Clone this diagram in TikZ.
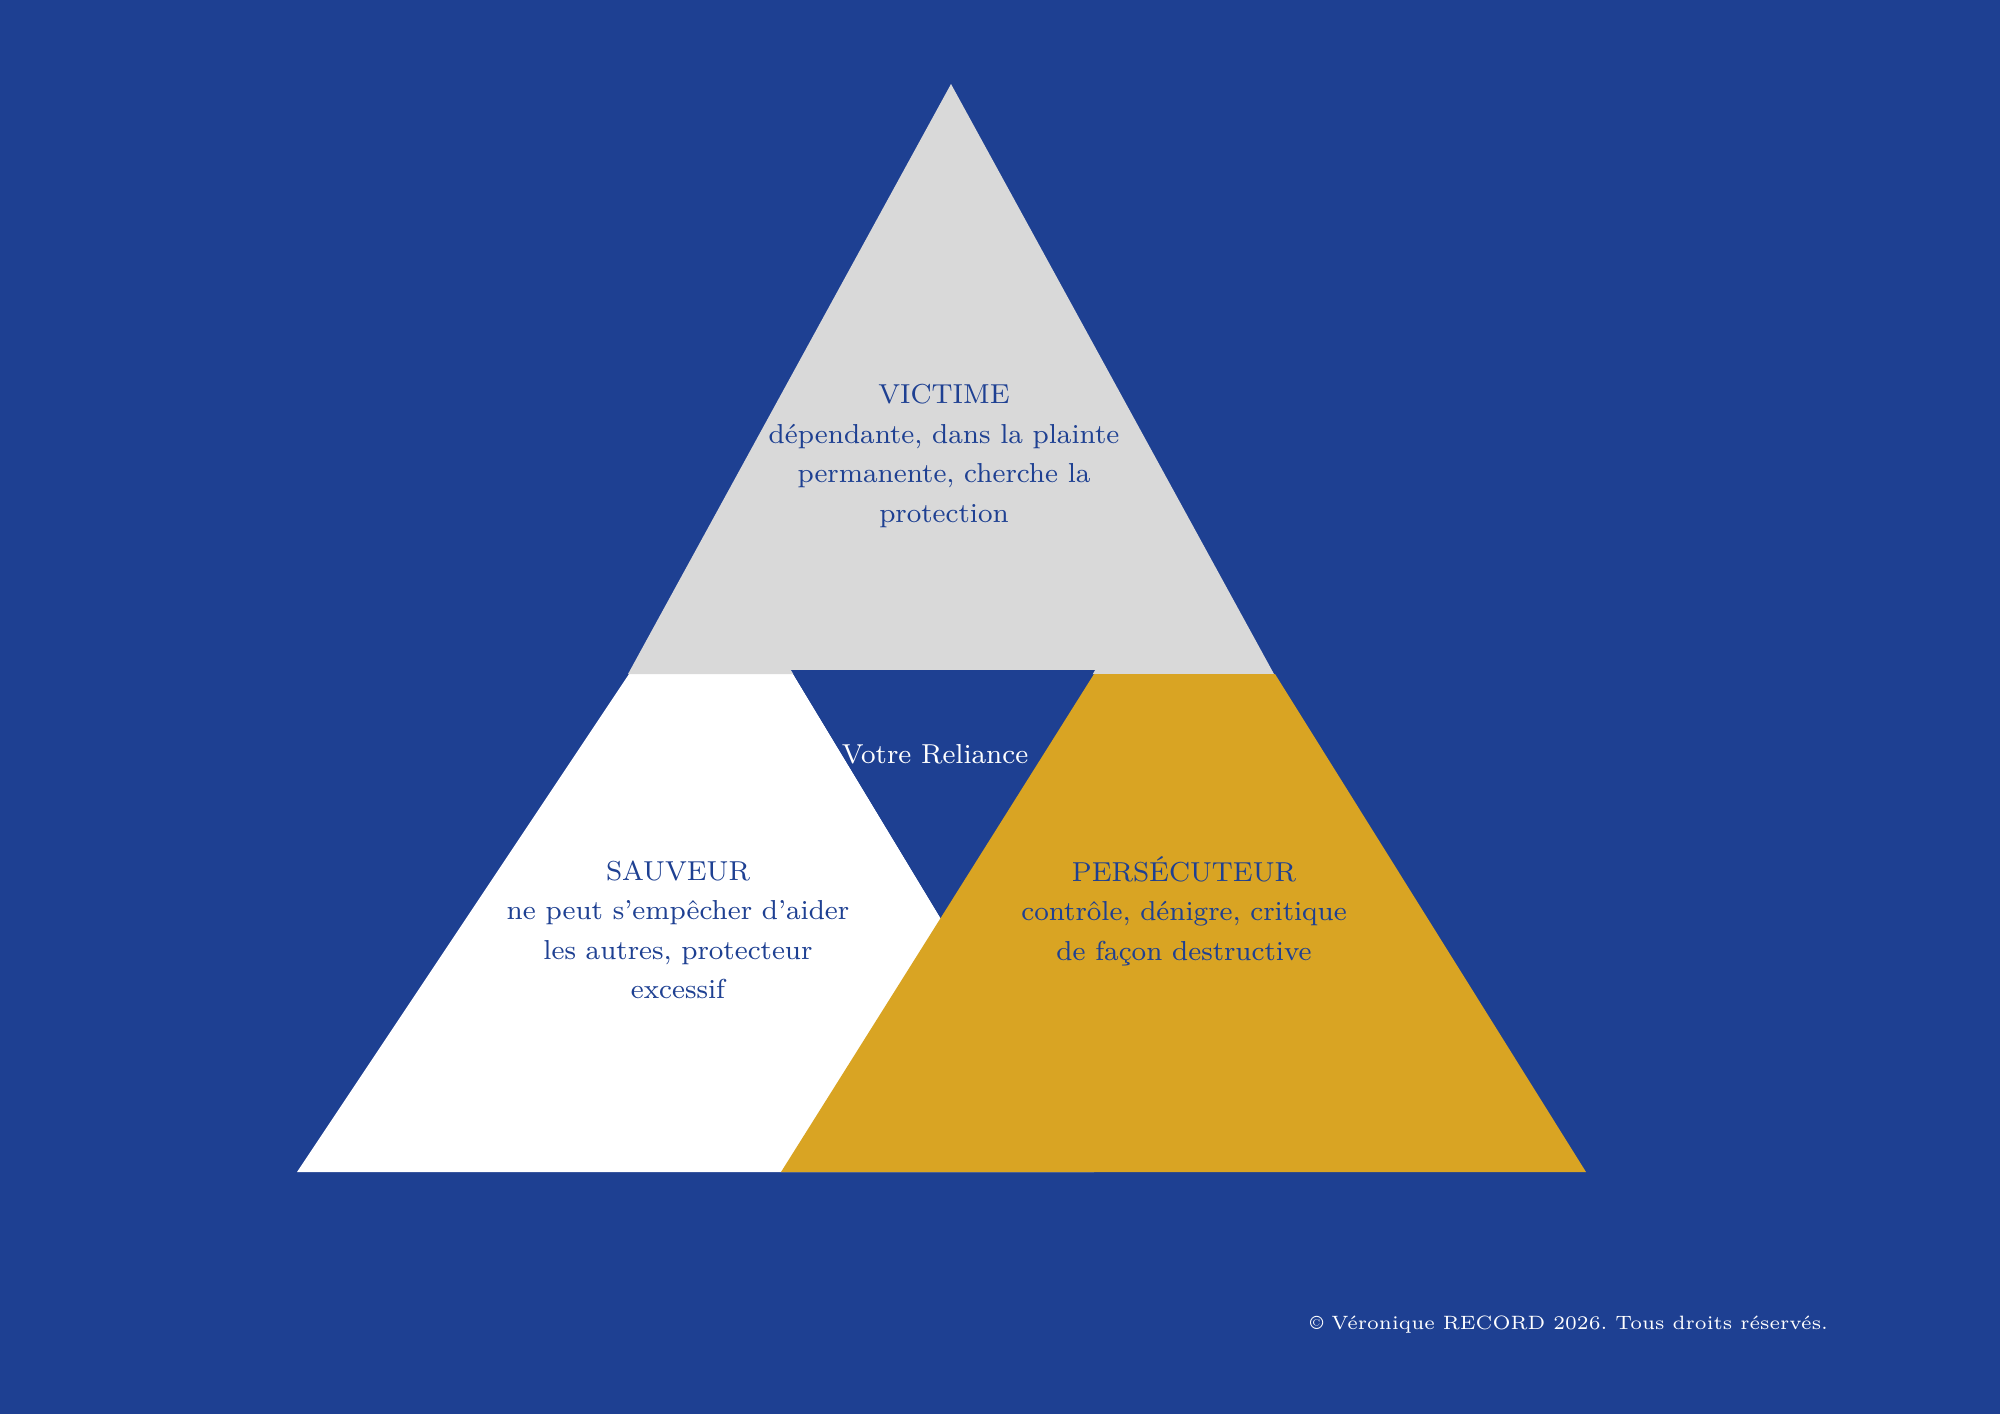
\documentclass[tikz,border=0pt]{standalone}
\usepackage{fontspec}
\frenchspacing
\definecolor{bgblue}{RGB}{30,64,146}
\definecolor{txtblue}{RGB}{30,64,146}
\definecolor{lightgray}{RGB}{217,217,217}
\definecolor{gold}{RGB}{217,164,35}
\begin{document}
\begin{tikzpicture}[x=0.01cm,y=-0.01cm,
  bodytext/.style={align=center,font=\fontsize{7.8}{11.2}\selectfont,inner sep=0pt},
  labelblue/.style={bodytext,text=txtblue},
  labelwhite/.style={bodytext,text=white}]
\useasboundingbox (0,0) rectangle (2000,1414);
\fill[bgblue] (0,0) rectangle (2000,1414);
% Sauveur (white)
\fill[white] (629,674) -- (793,674) -- (943,922) -- (1094,1172) -- (297,1172) -- cycle;
% Victime (gray)
\fill[lightgray] (951,84) -- (628,674) -- (1274,674) -- cycle;
% inner blue triangle
\fill[bgblue] (791,670) -- (1095,670) -- (943,922) -- cycle;
% Persecuteur (gold)
\fill[gold] (1094,674) -- (1275,674) -- (1586,1172) -- (781,1172) -- cycle;
% texts
\node[labelblue] (victime) at (944,456) {VICTIME\\dépendante, dans la plainte\\permanente, cherche la\\protection};
\node[labelwhite] (reliance) at (935,754) {Votre Reliance};
\node[labelblue] (sauveur) at (678,930) {SAUVEUR\\ne peut s’empêcher d’aider\\les autres, protecteur\\excessif};
\node[labelblue] (persecuteur) at (1184,911) {PERSÉCUTEUR\\contrôle, dénigre, critique\\de façon destructive};
\node[text=white,inner sep=0pt,font=\fontsize{6.1}{8}\selectfont,scale=0.9,transform shape] (copyright) at (1569,1325) {© Véronique RECORD 2026. Tous droits réservés.};
\end{tikzpicture}
\end{document}
